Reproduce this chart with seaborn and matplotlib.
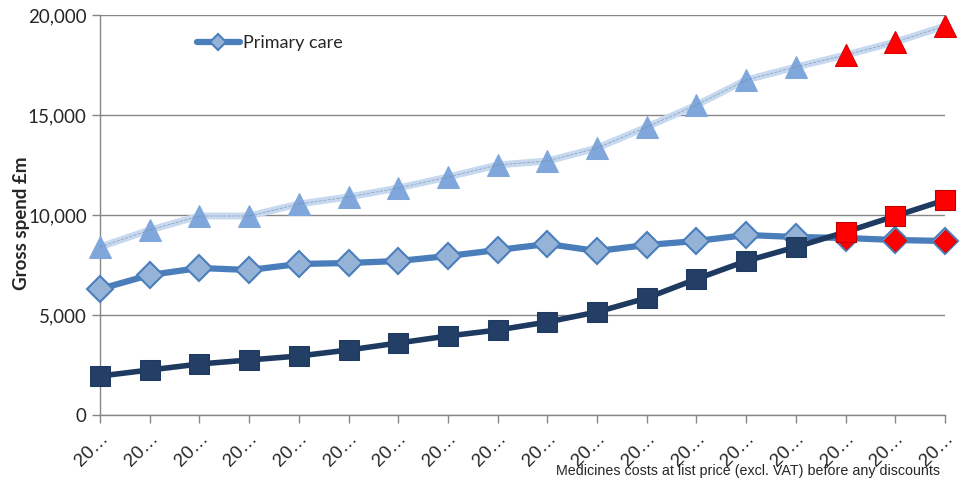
import matplotlib
matplotlib.use('Agg')
import matplotlib.pyplot as plt
import seaborn as sns
import pandas as pd
import numpy as np

# 18 financial years, labels truncated as in the source chart
year_labels = ['20…'] * 18

# values (£m)
total = [8400, 9250, 9950, 9950, 10550, 10900, 11350, 11900, 12500, 12700,
         13350, 14400, 15500, 16750, 17400, 18000, 18650, 19450]
primary_care = [6300, 7000, 7350, 7250, 7550, 7600, 7700, 7950, 8250, 8550,
                8200, 8500, 8700, 9000, 8900, 8850, 8750, 8700]
hospital = [1950, 2250, 2550, 2750, 2950, 3250, 3600, 3950, 4250, 4650,
            5150, 5850, 6800, 7700, 8400, 9150, 9950, 10750]
# last three years are projections (red markers)
projected = [False] * 15 + [True] * 3

df = pd.DataFrame({
    'idx': np.arange(len(year_labels)),
    'total': total,
    'primary': primary_care,
    'hospital': hospital,
    'projected': projected,
})
proj = df[df['projected']]

sns.set_style('white')
plt.rcParams['font.family'] = ['Lato', 'DejaVu Sans']

fig = plt.figure(figsize=(9.67, 4.8), dpi=100)
ax = fig.add_axes([100 / 967, 65 / 480, 845 / 967, 400 / 480])

# total (triangles)
sns.lineplot(data=df, x='idx', y='total', ax=ax, color='#c6d9f0', linewidth=5,
             marker='^', markersize=16, markerfacecolor='#7fa7db',
             markeredgecolor='#7fa7db', clip_on=False, zorder=3)
sns.lineplot(data=df, x='idx', y='total', ax=ax, color='#6f7f95', linewidth=0.6,
             linestyle='--', alpha=0.6, zorder=3.5)
# primary care (diamonds)
sns.lineplot(data=df, x='idx', y='primary', ax=ax, color='#4a7ebb', linewidth=4.5,
             marker='D', markersize=13, markerfacecolor='#95b3d7',
             markeredgecolor='#4a7ebb', markeredgewidth=1.5, clip_on=False,
             zorder=4, label='Primary care')
# hospital (squares)
sns.lineplot(data=df, x='idx', y='hospital', ax=ax, color='#1f3a60', linewidth=4,
             marker='s', markersize=14, markerfacecolor='#243f66',
             markeredgecolor='#1f3a60', clip_on=False, zorder=5)

# projections in red
sns.lineplot(data=proj, x='idx', y='total', ax=ax, linestyle='none', marker='^',
             markersize=16, markerfacecolor='#ff0000', markeredgecolor='#e00000',
             clip_on=False, zorder=6)
sns.lineplot(data=proj, x='idx', y='primary', ax=ax, linestyle='none', marker='D',
             markersize=11, markerfacecolor='#ff0000', markeredgecolor='#e00000',
             clip_on=False, zorder=6)
sns.lineplot(data=proj, x='idx', y='hospital', ax=ax, linestyle='none', marker='s',
             markersize=14, markerfacecolor='#ff0000', markeredgecolor='#c00000',
             clip_on=False, zorder=7)

ax.set_xlim(0, 17)
ax.set_ylim(0, 20000)
ax.set_yticks([0, 5000, 10000, 15000, 20000])
ax.set_yticklabels(['0', '5,000', '10,000', '15,000', '20,000'], fontsize=13.5)
ax.set_xticks(df['idx'])
ax.set_xticklabels(year_labels, rotation=45, ha='right', rotation_mode='anchor',
                   fontsize=13.5, family=['Liberation Sans', 'DejaVu Sans'])
ax.tick_params(axis='both', direction='out', length=6, width=1, color='#868686',
               bottom=True, left=True)
ax.tick_params(axis='x', pad=5)

ax.grid(axis='y', color='#868686', linewidth=1)
ax.set_axisbelow(True)
for side in ['top', 'right']:
    ax.spines[side].set_visible(False)
for side in ['left', 'bottom']:
    ax.spines[side].set_color('#868686')
    ax.spines[side].set_linewidth(1)

ax.set_xlabel('')
ax.set_ylabel('Gross spend £m', fontsize=13.5, fontweight='bold')
ax.yaxis.set_label_coords(-0.083, 0.48)

ax.legend(loc='upper left', bbox_to_anchor=(0.095, 0.99), frameon=False,
          fontsize=13, handlelength=2.4, handletextpad=0.15, markerscale=0.6)

fig.text(940 / 967, 9 / 480, 'Medicines costs at list price (excl. VAT) before any discounts',
         ha='right', va='center', fontsize=10.3,
         family=['Liberation Sans Narrow', 'Liberation Sans', 'DejaVu Sans'])

fig.savefig('out.png', dpi=100)
